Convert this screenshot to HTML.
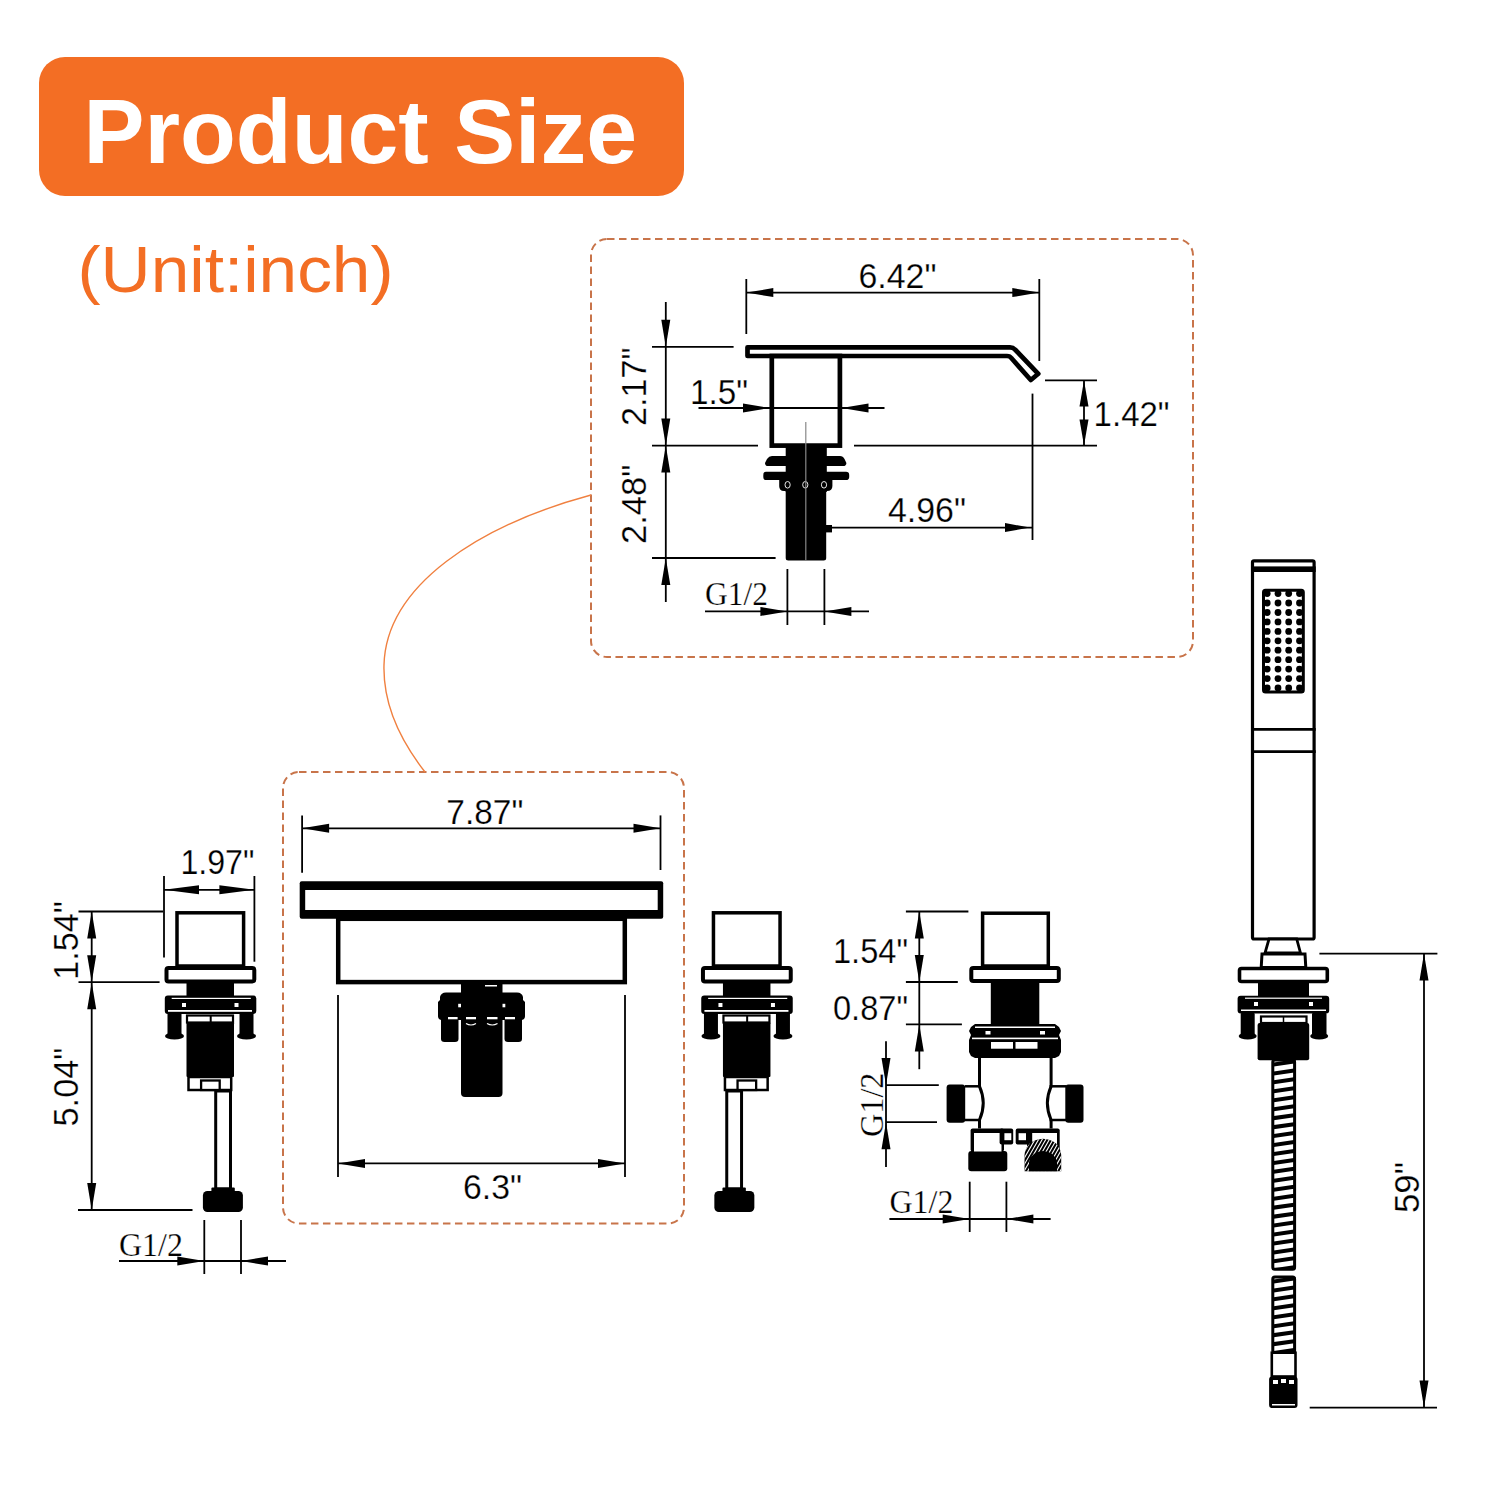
<!DOCTYPE html>
<html><head><meta charset="utf-8"><title>Product Size</title>
<style>html,body{margin:0;padding:0;background:#fff;}svg{display:block;}</style></head>
<body><svg width="1500" height="1500" viewBox="0 0 1500 1500">
<rect width="1500" height="1500" fill="#fff"/>
<rect x="39" y="57" width="645" height="139" rx="26" fill="#F36E24"/>
<text x="83.5" y="162.5" font-family="Liberation Sans" font-size="90" fill="#ffffff" font-weight="bold" textLength="553.5" lengthAdjust="spacingAndGlyphs">Product Size</text>
<text x="77.5" y="292" font-family="Liberation Sans" font-size="64" fill="#F36E24" font-weight="normal" textLength="316" lengthAdjust="spacingAndGlyphs">(Unit:inch)</text>
<rect x="591" y="239" width="602" height="418" rx="16" fill="none" stroke="#C8744A" stroke-width="2" stroke-dasharray="7.5 4.5"/>
<rect x="283" y="772" width="401" height="451.5" rx="16" fill="none" stroke="#C8744A" stroke-width="2" stroke-dasharray="7.5 4.5"/>
<path d="M591,495 C480,525 386,585 384,665 C383,700 396,735 425,772" fill="none" stroke="#F08040" stroke-width="1.4"/>
<line x1="746.3" y1="279" x2="746.3" y2="334" stroke="#000" stroke-width="1.8"/>
<line x1="1039.3" y1="279" x2="1039.3" y2="361" stroke="#000" stroke-width="1.8"/>
<line x1="746.3" y1="292.6" x2="1039.3" y2="292.6" stroke="#000" stroke-width="1.8"/>
<polygon points="746.3,292.6 773.3,288.1 773.3,297.1" fill="#000"/>
<polygon points="1039.3,292.6 1012.3,288.1 1012.3,297.1" fill="#000"/>
<text x="858.5" y="287.7" font-family="Liberation Sans" font-size="35" fill="#000" font-weight="normal" textLength="78" lengthAdjust="spacingAndGlyphs" stroke="#fff" stroke-width="0.25">6.42"</text>
<path d="M747.5,347.3 L1010,347.3 Q1013,347.3 1015,349.5 L1038.3,373.8 L1030.8,380 L1011.5,358.3 Q1010,356 1007,356 L747.5,356 Z" fill="none" stroke="#000" stroke-width="4.7" stroke-linejoin="round"/>
<rect x="771.8" y="356" width="68.10" height="89.60" rx="0" fill="none" stroke="#000" stroke-width="4.7"/>
<line x1="665.8" y1="302" x2="665.8" y2="602" stroke="#000" stroke-width="1.8"/>
<line x1="652" y1="346.8" x2="733.6" y2="346.8" stroke="#000" stroke-width="1.8"/>
<line x1="652" y1="445.6" x2="758" y2="445.6" stroke="#000" stroke-width="1.8"/>
<line x1="854" y1="445.6" x2="1097" y2="445.6" stroke="#000" stroke-width="1.8"/>
<line x1="652" y1="558" x2="775.6" y2="558" stroke="#000" stroke-width="1.8"/>
<polygon points="665.8,346.8 661.3,319.8 670.3,319.8" fill="#000"/>
<polygon points="665.8,445.6 661.3,418.6 670.3,418.6" fill="#000"/>
<polygon points="665.8,445.6 661.3,472.6 670.3,472.6" fill="#000"/>
<polygon points="665.8,558.0 661.3,585.0 670.3,585.0" fill="#000"/>
<text transform="translate(646.2,426) rotate(-90)" x="0" y="0" font-family="Liberation Sans" font-size="35" fill="#000" stroke="#fff" stroke-width="0.25" textLength="78.5" lengthAdjust="spacingAndGlyphs">2.17"</text>
<text transform="translate(646.2,544) rotate(-90)" x="0" y="0" font-family="Liberation Sans" font-size="35" fill="#000" stroke="#fff" stroke-width="0.25" textLength="79.5" lengthAdjust="spacingAndGlyphs">2.48"</text>
<line x1="698.5" y1="408" x2="884.5" y2="408" stroke="#000" stroke-width="1.8"/>
<polygon points="770.0,408.0 743.0,403.5 743.0,412.5" fill="#000"/>
<polygon points="841.5,408.0 868.5,403.5 868.5,412.5" fill="#000"/>
<text x="690" y="403.7" font-family="Liberation Sans" font-size="35" fill="#000" font-weight="normal" textLength="58" lengthAdjust="spacingAndGlyphs" stroke="#fff" stroke-width="0.25">1.5"</text>
<line x1="1045" y1="380.4" x2="1097" y2="380.4" stroke="#000" stroke-width="1.8"/>
<line x1="1084" y1="380.4" x2="1084" y2="445.6" stroke="#000" stroke-width="1.8"/>
<polygon points="1084.0,380.4 1079.5,406.4 1088.5,406.4" fill="#000"/>
<polygon points="1084.0,445.6 1079.5,419.6 1088.5,419.6" fill="#000"/>
<text x="1093.6" y="425.7" font-family="Liberation Sans" font-size="35" fill="#000" font-weight="normal" textLength="76" lengthAdjust="spacingAndGlyphs" stroke="#fff" stroke-width="0.25">1.42"</text>
<line x1="1032.5" y1="393.6" x2="1032.5" y2="540" stroke="#000" stroke-width="1.8"/>
<line x1="830" y1="527.6" x2="1032.5" y2="527.6" stroke="#000" stroke-width="1.8"/>
<polygon points="1030.0,527.6 1005.0,523.1 1005.0,532.1" fill="#000"/>
<text x="888" y="522.1" font-family="Liberation Sans" font-size="35" fill="#000" font-weight="normal" textLength="78" lengthAdjust="spacingAndGlyphs" stroke="#fff" stroke-width="0.25">4.96"</text>
<rect x="785.7" y="446" width="41.10" height="46.00" rx="0" fill="#000"/>
<path d="M772,456 L840,456 Q843,456 844.5,459 L846.4,463 Q846.4,466.1 843,466.1 L768,466.1 Q765,466.1 765,463 L767,459 Q769,456 772,456 Z" fill="#000"/>
<path d="M766,471.7 L846,471.7 Q849.2,471.7 849.2,475 L849.2,477 Q849.2,480.1 846,480.1 L766,480.1 Q763.3,480.1 763.3,477 L763.3,475 Q763.3,471.7 766,471.7 Z" fill="#000"/>
<path d="M779.2,480 L832.4,480 L832.4,486 Q832.4,491 827,491 L784,491 Q779.2,491 779.2,486 Z" fill="#000"/>
<rect x="785.7" y="488" width="40.50" height="72.40" rx="2.5" fill="#000"/>
<rect x="826" y="525" width="6.00" height="7.40" rx="0" fill="#000"/>
<ellipse cx="787.6" cy="484.8" rx="2.6" ry="3.3" fill="none" stroke="#fff" stroke-width="0.9"/>
<ellipse cx="805.3" cy="484.8" rx="2.6" ry="3.3" fill="none" stroke="#fff" stroke-width="0.9"/>
<ellipse cx="824" cy="484.8" rx="2.6" ry="3.3" fill="none" stroke="#fff" stroke-width="0.9"/>
<line x1="805.8" y1="422" x2="805.8" y2="560" stroke="#888" stroke-width="1.2"/>
<text x="705" y="605" font-family="Liberation Serif" font-size="33" fill="#000" font-weight="normal" textLength="63" lengthAdjust="spacingAndGlyphs" stroke="#fff" stroke-width="0.25">G1/2</text>
<line x1="705" y1="611.4" x2="869" y2="611.4" stroke="#000" stroke-width="1.8"/>
<line x1="787.4" y1="569" x2="787.4" y2="625" stroke="#000" stroke-width="1.8"/>
<line x1="824.4" y1="569" x2="824.4" y2="625" stroke="#000" stroke-width="1.8"/>
<polygon points="787.4,611.4 760.4,606.9 760.4,615.9" fill="#000"/>
<polygon points="824.4,611.4 851.4,606.9 851.4,615.9" fill="#000"/>
<line x1="302.1" y1="815.4" x2="302.1" y2="872.8" stroke="#000" stroke-width="1.8"/>
<line x1="660.5" y1="815.4" x2="660.5" y2="870" stroke="#000" stroke-width="1.8"/>
<line x1="302.1" y1="828.3" x2="660.5" y2="828.3" stroke="#000" stroke-width="1.8"/>
<polygon points="302.1,828.3 329.1,823.8 329.1,832.8" fill="#000"/>
<polygon points="660.5,828.3 633.5,823.8 633.5,832.8" fill="#000"/>
<text x="446.3" y="824.2" font-family="Liberation Sans" font-size="35" fill="#000" font-weight="normal" textLength="77" lengthAdjust="spacingAndGlyphs" stroke="#fff" stroke-width="0.25">7.87"</text>
<rect x="299.7" y="881.3" width="363.50" height="37.50" rx="2" fill="#000"/>
<rect x="305.2" y="890" width="352.50" height="20.00" rx="0" fill="#fff"/>
<rect x="338.2" y="918.8" width="286.60" height="63.30" rx="0" fill="none" stroke="#000" stroke-width="4.5"/>
<rect x="461" y="983" width="41.50" height="12.00" rx="0" fill="#000"/>
<rect x="485" y="985" width="12.00" height="1.50" rx="0" fill="#fff"/>
<path d="M446,992.5 L517,992.5 Q522,992.5 523,997 L523,1000 L525,1002 L525,1016 Q525,1020 521,1020 L442,1020 Q438,1020 438,1016 L438,1002 L440,1000 L440,997 Q441,992.5 446,992.5 Z" fill="#000"/>
<path d="M441,1016 L458.5,1016 L458.5,1039 Q458.5,1042 455,1042 L444.5,1042 Q441,1042 441,1039 Z" fill="#000"/>
<path d="M504.5,1016 L522,1016 L522,1039 Q522,1042 518.5,1042 L508,1042 Q504.5,1042 504.5,1039 Z" fill="#000"/>
<rect x="461" y="1016" width="41.50" height="81.00" rx="4" fill="#000"/>
<rect x="448" y="1017" width="9.60" height="2.30" rx="0" fill="#fff"/>
<rect x="466" y="1017" width="10.00" height="2.30" rx="0" fill="#fff"/>
<rect x="487" y="1017" width="10.50" height="2.30" rx="0" fill="#fff"/>
<rect x="505" y="1017" width="10.00" height="2.30" rx="0" fill="#fff"/>
<path d="M466,1023.5 Q471.0,1026.5 476,1023.5" fill="none" stroke="#fff" stroke-width="1.2"/>
<path d="M487,1023.5 Q492.25,1026.5 497.5,1023.5" fill="none" stroke="#fff" stroke-width="1.2"/>
<rect x="458.2" y="1003.8" width="2.80" height="3.50" rx="0" fill="#fff"/>
<rect x="502.5" y="1003.8" width="2.80" height="3.50" rx="0" fill="#fff"/>
<line x1="338" y1="995" x2="338" y2="1177" stroke="#000" stroke-width="1.8"/>
<line x1="625" y1="995" x2="625" y2="1177" stroke="#000" stroke-width="1.8"/>
<line x1="338" y1="1163.4" x2="625" y2="1163.4" stroke="#000" stroke-width="1.8"/>
<polygon points="338.0,1163.4 365.0,1158.9 365.0,1167.9" fill="#000"/>
<polygon points="625.0,1163.4 598.0,1158.9 598.0,1167.9" fill="#000"/>
<text x="463" y="1198.7" font-family="Liberation Sans" font-size="35" fill="#000" font-weight="normal" textLength="59" lengthAdjust="spacingAndGlyphs" stroke="#fff" stroke-width="0.25">6.3"</text>
<rect x="177.0" y="912.8" width="66.60" height="53.20" rx="0" fill="none" stroke="#000" stroke-width="3.5"/>
<rect x="166.5" y="968" width="87.80" height="13.40" rx="2" fill="#fff" stroke="#000" stroke-width="4"/>
<rect x="186.5" y="983" width="47.50" height="14.00" rx="0" fill="#000"/>
<rect x="164.8" y="995.5" width="91.50" height="18.50" rx="3" fill="#000"/>
<rect x="168.0" y="1010" width="84.00" height="1.80" rx="0" fill="#fff"/>
<rect x="182.0" y="1003" width="4.00" height="4.00" rx="0" fill="#fff"/>
<rect x="234.5" y="1003" width="4.00" height="4.00" rx="0" fill="#fff"/>
<rect x="167.5" y="1013" width="14.00" height="22.00" rx="1" fill="#000"/>
<ellipse cx="174.5" cy="1036" rx="9.5" ry="3.6" fill="#000"/>
<rect x="239.5" y="1013" width="14.00" height="22.00" rx="1" fill="#000"/>
<ellipse cx="246.5" cy="1036" rx="9.5" ry="3.6" fill="#000"/>
<rect x="171.7" y="997.8" width="79.10" height="1.20" rx="0" fill="#fff"/>
<rect x="187.0" y="1015.5" width="46.00" height="7.00" rx="0" fill="#fff" stroke="#000" stroke-width="2.2"/>
<line x1="210.7" y1="1015.5" x2="210.7" y2="1022.5" stroke="#000" stroke-width="2"/>
<rect x="186.5" y="1022.5" width="47.50" height="54.50" rx="1" fill="#000"/>
<rect x="188.5" y="1077" width="42.70" height="13.00" rx="0" fill="#fff" stroke="#000" stroke-width="2.5"/>
<rect x="201.1" y="1080.5" width="18.60" height="9.50" rx="0" fill="#fff" stroke="#000" stroke-width="2.3"/>
<rect x="215.7" y="1091" width="14.80" height="98.00" rx="0" fill="#fff" stroke="#000" stroke-width="3"/>
<rect x="211.4" y="1187.5" width="23.40" height="4.50" rx="1" fill="#000"/>
<rect x="202.9" y="1191" width="40.00" height="21.00" rx="4.5" fill="#000"/>
<rect x="713.45" y="912.8" width="66.60" height="53.20" rx="0" fill="none" stroke="#000" stroke-width="3.5"/>
<rect x="702.95" y="968" width="87.80" height="13.40" rx="2" fill="#fff" stroke="#000" stroke-width="4"/>
<rect x="722.95" y="983" width="47.50" height="14.00" rx="0" fill="#000"/>
<rect x="701.25" y="995.5" width="91.50" height="18.50" rx="3" fill="#000"/>
<rect x="704.45" y="1010" width="84.00" height="1.80" rx="0" fill="#fff"/>
<rect x="718.45" y="1003" width="4.00" height="4.00" rx="0" fill="#fff"/>
<rect x="770.95" y="1003" width="4.00" height="4.00" rx="0" fill="#fff"/>
<rect x="703.95" y="1013" width="14.00" height="22.00" rx="1" fill="#000"/>
<ellipse cx="710.95" cy="1036" rx="9.5" ry="3.6" fill="#000"/>
<rect x="775.95" y="1013" width="14.00" height="22.00" rx="1" fill="#000"/>
<ellipse cx="782.95" cy="1036" rx="9.5" ry="3.6" fill="#000"/>
<rect x="708.1500000000001" y="997.8" width="79.10" height="1.20" rx="0" fill="#fff"/>
<rect x="723.45" y="1015.5" width="46.00" height="7.00" rx="0" fill="#fff" stroke="#000" stroke-width="2.2"/>
<line x1="747.1500000000001" y1="1015.5" x2="747.1500000000001" y2="1022.5" stroke="#000" stroke-width="2"/>
<rect x="722.95" y="1022.5" width="47.50" height="54.50" rx="1" fill="#000"/>
<rect x="724.95" y="1077" width="42.70" height="13.00" rx="0" fill="#fff" stroke="#000" stroke-width="2.5"/>
<rect x="737.5500000000001" y="1080.5" width="18.60" height="9.50" rx="0" fill="#fff" stroke="#000" stroke-width="2.3"/>
<rect x="726.7500000000001" y="1091" width="14.80" height="98.00" rx="0" fill="#fff" stroke="#000" stroke-width="3"/>
<rect x="722.45" y="1187.5" width="23.40" height="4.50" rx="1" fill="#000"/>
<rect x="714.35" y="1191" width="40.00" height="21.00" rx="4.5" fill="#000"/>
<line x1="164" y1="876" x2="164" y2="957.4" stroke="#000" stroke-width="1.8"/>
<line x1="254.4" y1="876" x2="254.4" y2="961.7" stroke="#000" stroke-width="1.8"/>
<line x1="164" y1="889.8" x2="254.4" y2="889.8" stroke="#000" stroke-width="1.8"/>
<polygon points="164.0,889.8 199.0,885.3 199.0,894.3" fill="#000"/>
<polygon points="254.4,889.8 219.4,885.3 219.4,894.3" fill="#000"/>
<text x="180.4" y="874.0" font-family="Liberation Sans" font-size="35" fill="#000" font-weight="normal" textLength="74" lengthAdjust="spacingAndGlyphs" stroke="#fff" stroke-width="0.25">1.97"</text>
<line x1="78.5" y1="911.5" x2="163" y2="911.5" stroke="#000" stroke-width="1.8"/>
<line x1="78.5" y1="982.2" x2="159.6" y2="982.2" stroke="#000" stroke-width="1.8"/>
<line x1="78" y1="1210" x2="192.5" y2="1210" stroke="#000" stroke-width="1.8"/>
<line x1="91.7" y1="911.5" x2="91.7" y2="1210" stroke="#000" stroke-width="1.8"/>
<polygon points="91.7,911.5 87.2,938.5 96.2,938.5" fill="#000"/>
<polygon points="91.7,982.2 87.2,955.2 96.2,955.2" fill="#000"/>
<polygon points="91.7,982.2 87.2,1009.2 96.2,1009.2" fill="#000"/>
<polygon points="91.7,1210.0 87.2,1183.0 96.2,1183.0" fill="#000"/>
<text transform="translate(77.7,979.7) rotate(-90)" x="0" y="0" font-family="Liberation Sans" font-size="35" fill="#000" stroke="#fff" stroke-width="0.25" textLength="78.5" lengthAdjust="spacingAndGlyphs">1.54"</text>
<text transform="translate(78.4,1126.5) rotate(-90)" x="0" y="0" font-family="Liberation Sans" font-size="35" fill="#000" stroke="#fff" stroke-width="0.25" textLength="79" lengthAdjust="spacingAndGlyphs">5.04"</text>
<text x="119" y="1256" font-family="Liberation Serif" font-size="33" fill="#000" font-weight="normal" textLength="64" lengthAdjust="spacingAndGlyphs" stroke="#fff" stroke-width="0.25">G1/2</text>
<line x1="119" y1="1261" x2="286" y2="1261" stroke="#000" stroke-width="1.8"/>
<line x1="204.3" y1="1220" x2="204.3" y2="1274" stroke="#000" stroke-width="1.8"/>
<line x1="241" y1="1220" x2="241" y2="1274" stroke="#000" stroke-width="1.8"/>
<polygon points="204.3,1261.0 177.3,1256.5 177.3,1265.5" fill="#000"/>
<polygon points="241.0,1261.0 268.0,1256.5 268.0,1265.5" fill="#000"/>
<rect x="982.6" y="913.2" width="65.70" height="52.80" rx="0" fill="none" stroke="#000" stroke-width="3.5"/>
<rect x="971.3" y="968" width="87.50" height="13.00" rx="2" fill="#fff" stroke="#000" stroke-width="4"/>
<rect x="990.8" y="982" width="48.50" height="43.00" rx="0" fill="#000"/>
<path d="M975,1024 L1055,1024 L1059,1027 L1061,1031 L1059,1035 L1061,1040 L1061,1052 L1059,1056 L1055,1058 L975,1058 L971,1056 L969,1052 L969,1040 L971,1035 L969,1031 L971,1027 Z" fill="#000"/>
<rect x="975" y="1026.5" width="80.00" height="1.50" rx="0" fill="#fff"/>
<rect x="972" y="1037.6" width="86.00" height="1.60" rx="0" fill="#fff"/>
<rect x="985.5" y="1031" width="5.00" height="3.50" rx="0" fill="#fff"/>
<rect x="1040" y="1031" width="5.00" height="3.50" rx="0" fill="#fff"/>
<rect x="991" y="1042" width="22.00" height="6.70" rx="0" fill="#fff"/>
<rect x="1015.5" y="1042" width="22.00" height="6.70" rx="0" fill="#fff"/>
<path d="M979.5,1058 L979.5,1086.3 Q987,1103 979.5,1120 L979.5,1128.5 M1051.1,1058 L1051.1,1086.3 Q1043.6,1103 1051.1,1120 L1051.1,1128.5" fill="none" stroke="#000" stroke-width="3"/>
<line x1="965" y1="1086.3" x2="981" y2="1086.3" stroke="#000" stroke-width="2.5"/>
<line x1="965" y1="1120" x2="981" y2="1120" stroke="#000" stroke-width="2.5"/>
<line x1="1049.5" y1="1086.3" x2="1066" y2="1086.3" stroke="#000" stroke-width="2.5"/>
<line x1="1049.5" y1="1120" x2="1066" y2="1120" stroke="#000" stroke-width="2.5"/>
<rect x="946.6" y="1084.6" width="18.60" height="38.10" rx="3" fill="#000"/>
<rect x="1065.3" y="1084.6" width="18.20" height="38.10" rx="3" fill="#000"/>
<rect x="968.3" y="1151" width="39.00" height="20.30" rx="3" fill="#000"/>
<rect x="970.6" y="1128.4" width="33.40" height="23.10" rx="2" fill="#000"/>
<rect x="974" y="1133" width="27.50" height="18.50" rx="0" fill="#fff"/>
<rect x="999.6" y="1128.4" width="13.60" height="16.20" rx="2" fill="#000"/>
<rect x="1004.4" y="1133.2" width="6.90" height="7.00" rx="0" fill="#fff"/>
<rect x="1015.7" y="1128.4" width="13.90" height="16.20" rx="2" fill="#000"/>
<rect x="1018.6" y="1133.2" width="7.40" height="7.00" rx="0" fill="#fff"/>
<rect x="1027" y="1128.4" width="32.70" height="21.60" rx="2" fill="#000"/>
<rect x="1032.2" y="1133" width="24.80" height="17.00" rx="0" fill="#fff"/>
<clipPath id="dome"><path d="M1024.5,1171.3 L1024.5,1155 Q1026,1140 1043,1138.7 Q1060,1140 1061.2,1155 L1061.2,1171.3 Z"/></clipPath>
<path d="M1024.5,1171.3 L1024.5,1155 Q1026,1140 1043,1138.7 Q1060,1140 1061.2,1155 L1061.2,1171.3 Z" fill="#000"/>
<g clip-path="url(#dome)"><line x1="1005.6" y1="1172" x2="1025.6" y2="1137" stroke="#fff" stroke-width="1.1"/><line x1="1009.2" y1="1172" x2="1029.2" y2="1137" stroke="#fff" stroke-width="1.1"/><line x1="1012.8" y1="1172" x2="1032.8" y2="1137" stroke="#fff" stroke-width="1.1"/><line x1="1016.4" y1="1172" x2="1036.4" y2="1137" stroke="#fff" stroke-width="1.1"/><line x1="1020.0" y1="1172" x2="1040.0" y2="1137" stroke="#fff" stroke-width="1.1"/><line x1="1023.6" y1="1172" x2="1043.6" y2="1137" stroke="#fff" stroke-width="1.1"/><line x1="1027.2" y1="1172" x2="1047.2" y2="1137" stroke="#fff" stroke-width="1.1"/><line x1="1030.8" y1="1172" x2="1050.8" y2="1137" stroke="#fff" stroke-width="1.1"/><line x1="1034.4" y1="1172" x2="1054.4" y2="1137" stroke="#fff" stroke-width="1.1"/><line x1="1038.0" y1="1172" x2="1058.0" y2="1137" stroke="#fff" stroke-width="1.1"/><line x1="1041.6" y1="1172" x2="1061.6" y2="1137" stroke="#fff" stroke-width="1.1"/><line x1="1045.2" y1="1172" x2="1065.2" y2="1137" stroke="#fff" stroke-width="1.1"/><line x1="1048.8" y1="1172" x2="1068.8" y2="1137" stroke="#fff" stroke-width="1.1"/><line x1="1052.4" y1="1172" x2="1072.4" y2="1137" stroke="#fff" stroke-width="1.1"/><line x1="1056.0" y1="1172" x2="1076.0" y2="1137" stroke="#fff" stroke-width="1.1"/><line x1="1059.6" y1="1172" x2="1079.6" y2="1137" stroke="#fff" stroke-width="1.1"/></g>
<path d="M1029,1171.3 L1029,1162 Q1031,1152 1043,1151 Q1055,1152 1057,1162 L1057,1171.3 Z" fill="#000"/>
<line x1="905.9" y1="911.5" x2="968.4" y2="911.5" stroke="#000" stroke-width="1.8"/>
<line x1="905.9" y1="982" x2="957.8" y2="982" stroke="#000" stroke-width="1.8"/>
<line x1="905.9" y1="1024.4" x2="961.9" y2="1024.4" stroke="#000" stroke-width="1.8"/>
<line x1="919.3" y1="911.5" x2="919.3" y2="1069.2" stroke="#000" stroke-width="1.8"/>
<polygon points="919.3,911.5 914.8,938.5 923.8,938.5" fill="#000"/>
<polygon points="919.3,982.0 914.8,955.0 923.8,955.0" fill="#000"/>
<polygon points="919.3,1024.4 914.8,1051.4 923.8,1051.4" fill="#000"/>
<text x="833" y="962.6" font-family="Liberation Sans" font-size="35" fill="#000" font-weight="normal" textLength="75" lengthAdjust="spacingAndGlyphs" stroke="#fff" stroke-width="0.25">1.54"</text>
<text x="833" y="1019.5" font-family="Liberation Sans" font-size="35" fill="#000" font-weight="normal" textLength="75" lengthAdjust="spacingAndGlyphs" stroke="#fff" stroke-width="0.25">0.87"</text>
<line x1="886" y1="1041.3" x2="886" y2="1167" stroke="#000" stroke-width="1.8"/>
<polygon points="886.0,1085.1 881.5,1058.1 890.5,1058.1" fill="#000"/>
<polygon points="886.0,1122.2 881.5,1149.2 890.5,1149.2" fill="#000"/>
<line x1="886" y1="1085.1" x2="938.8" y2="1085.1" stroke="#000" stroke-width="1.8"/>
<line x1="886" y1="1122.2" x2="937" y2="1122.2" stroke="#000" stroke-width="1.8"/>
<text transform="translate(882.5,1137) rotate(-90)" x="0" y="0" font-family="Liberation Serif" font-size="33" fill="#000" stroke="#fff" stroke-width="0.25" textLength="64.5" lengthAdjust="spacingAndGlyphs">G1/2</text>
<text x="889.4" y="1213" font-family="Liberation Serif" font-size="33" fill="#000" font-weight="normal" textLength="64" lengthAdjust="spacingAndGlyphs" stroke="#fff" stroke-width="0.25">G1/2</text>
<line x1="889.4" y1="1219" x2="1050.6" y2="1219" stroke="#000" stroke-width="1.8"/>
<line x1="969.7" y1="1181.7" x2="969.7" y2="1232" stroke="#000" stroke-width="1.8"/>
<line x1="1006.4" y1="1181.7" x2="1006.4" y2="1232" stroke="#000" stroke-width="1.8"/>
<polygon points="969.7,1219.0 942.7,1214.5 942.7,1223.5" fill="#000"/>
<polygon points="1006.4,1219.0 1033.4,1214.5 1033.4,1223.5" fill="#000"/>
<rect x="1252.5" y="560.8" width="61.60" height="378.20" rx="1.5" fill="none" stroke="#000" stroke-width="3.2"/>
<rect x="1251" y="566.4" width="64.70" height="5.60" rx="0" fill="#000"/>
<rect x="1263.5" y="590.3" width="39.80" height="101.80" rx="2" fill="#fff" stroke="#000" stroke-width="3"/>
<circle cx="1267.2" cy="593.6" r="3.4" fill="#000"/>
<circle cx="1278.0" cy="593.6" r="3.4" fill="#000"/>
<circle cx="1288.7" cy="593.6" r="3.4" fill="#000"/>
<circle cx="1299.5" cy="593.6" r="3.4" fill="#000"/>
<circle cx="1267.2" cy="603.0" r="3.4" fill="#000"/>
<circle cx="1278.0" cy="603.0" r="3.4" fill="#000"/>
<circle cx="1288.7" cy="603.0" r="3.4" fill="#000"/>
<circle cx="1299.5" cy="603.0" r="3.4" fill="#000"/>
<circle cx="1267.2" cy="612.5" r="3.4" fill="#000"/>
<circle cx="1278.0" cy="612.5" r="3.4" fill="#000"/>
<circle cx="1288.7" cy="612.5" r="3.4" fill="#000"/>
<circle cx="1299.5" cy="612.5" r="3.4" fill="#000"/>
<circle cx="1267.2" cy="621.9" r="3.4" fill="#000"/>
<circle cx="1278.0" cy="621.9" r="3.4" fill="#000"/>
<circle cx="1288.7" cy="621.9" r="3.4" fill="#000"/>
<circle cx="1299.5" cy="621.9" r="3.4" fill="#000"/>
<circle cx="1267.2" cy="631.4" r="3.4" fill="#000"/>
<circle cx="1278.0" cy="631.4" r="3.4" fill="#000"/>
<circle cx="1288.7" cy="631.4" r="3.4" fill="#000"/>
<circle cx="1299.5" cy="631.4" r="3.4" fill="#000"/>
<circle cx="1267.2" cy="640.8" r="3.4" fill="#000"/>
<circle cx="1278.0" cy="640.8" r="3.4" fill="#000"/>
<circle cx="1288.7" cy="640.8" r="3.4" fill="#000"/>
<circle cx="1299.5" cy="640.8" r="3.4" fill="#000"/>
<circle cx="1267.2" cy="650.2" r="3.4" fill="#000"/>
<circle cx="1278.0" cy="650.2" r="3.4" fill="#000"/>
<circle cx="1288.7" cy="650.2" r="3.4" fill="#000"/>
<circle cx="1299.5" cy="650.2" r="3.4" fill="#000"/>
<circle cx="1267.2" cy="659.7" r="3.4" fill="#000"/>
<circle cx="1278.0" cy="659.7" r="3.4" fill="#000"/>
<circle cx="1288.7" cy="659.7" r="3.4" fill="#000"/>
<circle cx="1299.5" cy="659.7" r="3.4" fill="#000"/>
<circle cx="1267.2" cy="669.1" r="3.4" fill="#000"/>
<circle cx="1278.0" cy="669.1" r="3.4" fill="#000"/>
<circle cx="1288.7" cy="669.1" r="3.4" fill="#000"/>
<circle cx="1299.5" cy="669.1" r="3.4" fill="#000"/>
<circle cx="1267.2" cy="678.6" r="3.4" fill="#000"/>
<circle cx="1278.0" cy="678.6" r="3.4" fill="#000"/>
<circle cx="1288.7" cy="678.6" r="3.4" fill="#000"/>
<circle cx="1299.5" cy="678.6" r="3.4" fill="#000"/>
<circle cx="1267.2" cy="688.0" r="3.4" fill="#000"/>
<circle cx="1278.0" cy="688.0" r="3.4" fill="#000"/>
<circle cx="1288.7" cy="688.0" r="3.4" fill="#000"/>
<circle cx="1299.5" cy="688.0" r="3.4" fill="#000"/>
<line x1="1251" y1="729.3" x2="1315.7" y2="729.3" stroke="#000" stroke-width="2.8"/>
<line x1="1251" y1="751.7" x2="1315.7" y2="751.7" stroke="#000" stroke-width="2.8"/>
<path d="M1269,939 L1296.7,939 L1300.5,953 L1265,953 Z" fill="#fff" stroke="#000" stroke-width="2.8"/>
<path d="M1262,954 L1305,954 L1305.8,967.4 L1261.2,967.4 Z" fill="#fff" stroke="#000" stroke-width="3"/>
<rect x="1239.5" y="968.5" width="87.80" height="13.00" rx="2" fill="#fff" stroke="#000" stroke-width="3.6"/>
<rect x="1258" y="982" width="51.00" height="15.00" rx="0" fill="#000"/>
<rect x="1237.6" y="995.8" width="91.60" height="17.80" rx="3" fill="#000"/>
<rect x="1241" y="1009.5" width="85.00" height="1.50" rx="0" fill="#fff"/>
<rect x="1254" y="1002" width="4.00" height="4.00" rx="0" fill="#fff"/>
<rect x="1309" y="1002" width="4.00" height="4.00" rx="0" fill="#fff"/>
<rect x="1240.7" y="1013" width="14.00" height="22.00" rx="1" fill="#000"/>
<ellipse cx="1247.7" cy="1036" rx="9" ry="3.6" fill="#000"/>
<rect x="1312" y="1013" width="14.50" height="22.00" rx="1" fill="#000"/>
<ellipse cx="1319.2" cy="1036" rx="9" ry="3.6" fill="#000"/>
<rect x="1245" y="997.6" width="77.00" height="1.20" rx="0" fill="#fff"/>
<rect x="1261" y="1016.5" width="45.50" height="6.50" rx="0" fill="#fff" stroke="#000" stroke-width="2.2"/>
<line x1="1283.5" y1="1016.5" x2="1283.5" y2="1023" stroke="#000" stroke-width="1.5"/>
<rect x="1257.6" y="1023" width="51.60" height="37.20" rx="2" fill="#000"/>
<rect x="1272.8" y="1060" width="21.80" height="209.20" rx="2" fill="#fff" stroke="#000" stroke-width="3"/>
<clipPath id="hc1060"><rect x="1272" y="1060" width="23.5" height="209.20000000000005"/></clipPath>
<g clip-path="url(#hc1060)"><line x1="1271" y1="1064.8" x2="1296" y2="1061.2" stroke="#000" stroke-width="4"/><line x1="1271" y1="1073.8" x2="1296" y2="1070.2" stroke="#000" stroke-width="4"/><line x1="1271" y1="1082.7" x2="1296" y2="1079.1" stroke="#000" stroke-width="4"/><line x1="1271" y1="1091.7" x2="1296" y2="1088.1" stroke="#000" stroke-width="4"/><line x1="1271" y1="1100.6" x2="1296" y2="1097.0" stroke="#000" stroke-width="4"/><line x1="1271" y1="1109.6" x2="1296" y2="1106.0" stroke="#000" stroke-width="4"/><line x1="1271" y1="1118.5" x2="1296" y2="1114.9" stroke="#000" stroke-width="4"/><line x1="1271" y1="1127.5" x2="1296" y2="1123.9" stroke="#000" stroke-width="4"/><line x1="1271" y1="1136.4" x2="1296" y2="1132.8" stroke="#000" stroke-width="4"/><line x1="1271" y1="1145.4" x2="1296" y2="1141.8" stroke="#000" stroke-width="4"/><line x1="1271" y1="1154.3" x2="1296" y2="1150.7" stroke="#000" stroke-width="4"/><line x1="1271" y1="1163.3" x2="1296" y2="1159.7" stroke="#000" stroke-width="4"/><line x1="1271" y1="1172.2" x2="1296" y2="1168.6" stroke="#000" stroke-width="4"/><line x1="1271" y1="1181.2" x2="1296" y2="1177.6" stroke="#000" stroke-width="4"/><line x1="1271" y1="1190.1" x2="1296" y2="1186.5" stroke="#000" stroke-width="4"/><line x1="1271" y1="1199.1" x2="1296" y2="1195.5" stroke="#000" stroke-width="4"/><line x1="1271" y1="1208.0" x2="1296" y2="1204.4" stroke="#000" stroke-width="4"/><line x1="1271" y1="1217.0" x2="1296" y2="1213.4" stroke="#000" stroke-width="4"/><line x1="1271" y1="1225.9" x2="1296" y2="1222.3" stroke="#000" stroke-width="4"/><line x1="1271" y1="1234.9" x2="1296" y2="1231.3" stroke="#000" stroke-width="4"/><line x1="1271" y1="1243.8" x2="1296" y2="1240.2" stroke="#000" stroke-width="4"/><line x1="1271" y1="1252.8" x2="1296" y2="1249.2" stroke="#000" stroke-width="4"/><line x1="1271" y1="1261.7" x2="1296" y2="1258.1" stroke="#000" stroke-width="4"/><line x1="1271" y1="1270.7" x2="1296" y2="1267.1" stroke="#000" stroke-width="4"/></g>
<rect x="1272.8" y="1277" width="21.80" height="75.70" rx="2" fill="#fff" stroke="#000" stroke-width="3"/>
<clipPath id="hc1277"><rect x="1272" y="1277" width="23.5" height="75.70000000000005"/></clipPath>
<g clip-path="url(#hc1277)"><line x1="1271" y1="1281.8" x2="1296" y2="1278.2" stroke="#000" stroke-width="4"/><line x1="1271" y1="1290.8" x2="1296" y2="1287.2" stroke="#000" stroke-width="4"/><line x1="1271" y1="1299.7" x2="1296" y2="1296.1" stroke="#000" stroke-width="4"/><line x1="1271" y1="1308.7" x2="1296" y2="1305.1" stroke="#000" stroke-width="4"/><line x1="1271" y1="1317.6" x2="1296" y2="1314.0" stroke="#000" stroke-width="4"/><line x1="1271" y1="1326.6" x2="1296" y2="1323.0" stroke="#000" stroke-width="4"/><line x1="1271" y1="1335.5" x2="1296" y2="1331.9" stroke="#000" stroke-width="4"/><line x1="1271" y1="1344.5" x2="1296" y2="1340.9" stroke="#000" stroke-width="4"/><line x1="1271" y1="1353.4" x2="1296" y2="1349.8" stroke="#000" stroke-width="4"/></g>
<rect x="1271.8" y="1352.7" width="23.70" height="23.80" rx="0" fill="#fff" stroke="#000" stroke-width="2.6"/>
<rect x="1269.1" y="1376.5" width="28.40" height="31.50" rx="3" fill="#000"/>
<rect x="1273" y="1380" width="5.00" height="4.00" rx="0" fill="#fff"/>
<rect x="1281" y="1379" width="5.00" height="4.00" rx="0" fill="#fff"/>
<rect x="1289" y="1380" width="5.00" height="4.00" rx="0" fill="#fff"/>
<rect x="1272" y="1404" width="23.00" height="1.50" rx="0" fill="#fff"/>
<line x1="1319.4" y1="953.6" x2="1437.4" y2="953.6" stroke="#000" stroke-width="1.8"/>
<line x1="1309.7" y1="1407.6" x2="1437" y2="1407.6" stroke="#000" stroke-width="1.8"/>
<line x1="1424" y1="953.6" x2="1424" y2="1407.6" stroke="#000" stroke-width="1.8"/>
<polygon points="1424.0,953.6 1419.5,980.6 1428.5,980.6" fill="#000"/>
<polygon points="1424.0,1407.6 1419.5,1380.6 1428.5,1380.6" fill="#000"/>
<text transform="translate(1419.2,1213) rotate(-90)" x="0" y="0" font-family="Liberation Sans" font-size="35" fill="#000" stroke="#fff" stroke-width="0.25" textLength="51" lengthAdjust="spacingAndGlyphs">59"</text>
</svg></body></html>
